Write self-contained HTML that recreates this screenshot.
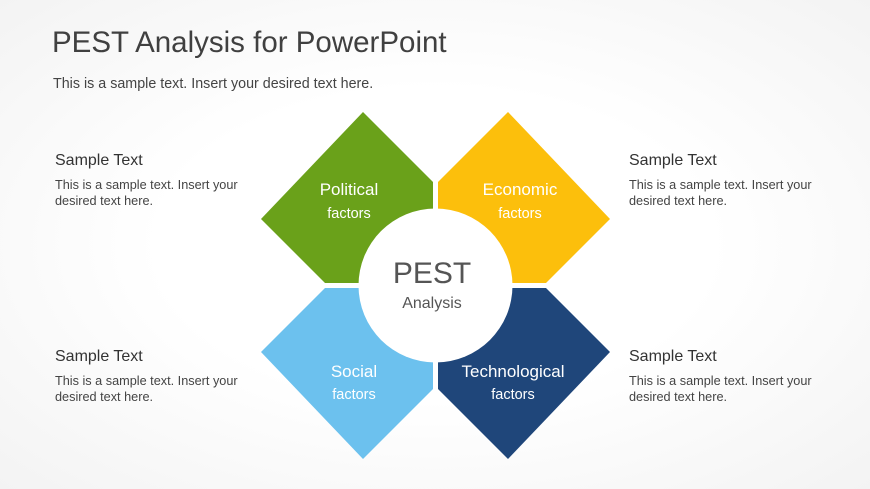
<!DOCTYPE html>
<html><head><meta charset="utf-8"><style>
body{margin:0;width:870px;height:489px;overflow:hidden;background:radial-gradient(ellipse at 50% 50%,#ffffff 45%,#f3f3f3 100%);font-family:"Liberation Sans",sans-serif;position:relative}
.t{position:absolute;white-space:nowrap;color:#444}
</style></head><body>
<div class="t" style="left:52px;top:26px;font-size:29.5px;color:#404040">PEST Analysis for PowerPoint</div>
<div class="t" style="left:53px;top:76px;font-size:14.3px;color:#444">This is a sample text. Insert your desired text here.</div>

<div class="t" style="left:55px;top:152px;font-size:16px;color:#333">Sample Text</div>
<div class="t" style="left:55px;top:177px;font-size:12.7px;line-height:16px;color:#444">This is a sample text. Insert your<br>desired text here.</div>
<div class="t" style="left:629px;top:152px;font-size:16px;color:#333">Sample Text</div>
<div class="t" style="left:629px;top:177px;font-size:12.7px;line-height:16px;color:#444">This is a sample text. Insert your<br>desired text here.</div>
<div class="t" style="left:55px;top:348px;font-size:16px;color:#333">Sample Text</div>
<div class="t" style="left:55px;top:373px;font-size:12.7px;line-height:16px;color:#444">This is a sample text. Insert your<br>desired text here.</div>
<div class="t" style="left:629px;top:348px;font-size:16px;color:#333">Sample Text</div>
<div class="t" style="left:629px;top:373px;font-size:12.7px;line-height:16px;color:#444">This is a sample text. Insert your<br>desired text here.</div>

<svg width="870" height="489" style="position:absolute;left:0;top:0" font-family="Liberation Sans, sans-serif">
<polygon points="363,112 433,182 433,283 325,283 261,219" fill="#6aa11a"/>
<polygon points="508,112 438,182 438,283 546,283 610,219" fill="#fcbf0c"/>
<polygon points="363,459 433,389 433,288 325,288 261,352" fill="#6cc1ee"/>
<polygon points="508,459 438,389 438,288 546,288 610,352" fill="#1f467a"/>
<circle cx="435.5" cy="285.5" r="77" fill="#fff"/>
<g fill="#fff" text-anchor="middle">
<text x="349" y="195" font-size="17">Political</text>
<text x="349" y="218" font-size="14.5">factors</text>
<text x="520" y="195" font-size="17">Economic</text>
<text x="520" y="218" font-size="14.5">factors</text>
<text x="354" y="377" font-size="17">Social</text>
<text x="354" y="399" font-size="14.5">factors</text>
<text x="513" y="377" font-size="17">Technological</text>
<text x="513" y="399" font-size="14.5">factors</text>
</g>
<text x="432" y="283" font-size="30" fill="#555" text-anchor="middle">PEST</text>
<text x="432" y="308" font-size="16" fill="#555" text-anchor="middle">Analysis</text>
</svg>
</body></html>
